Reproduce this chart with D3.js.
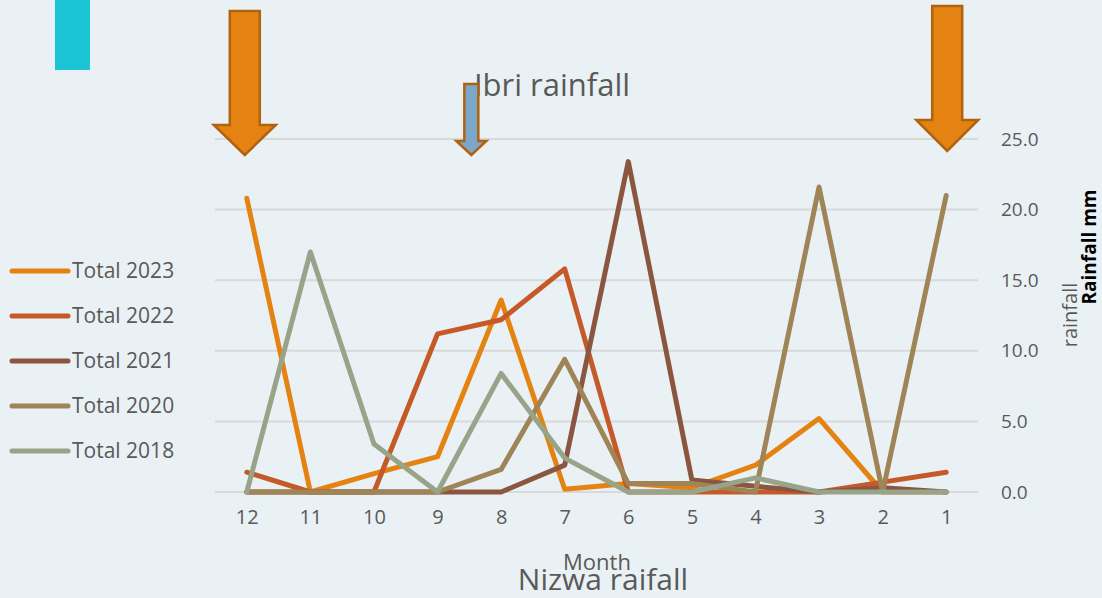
<!DOCTYPE html>
<html><head><meta charset="utf-8">
<script src="https://cdn.jsdelivr.net/npm/d3@7"></script>
<style>
html,body{margin:0;padding:0;background:#E9F1F4;}
svg{display:block;font-family:"Open Sans",sans-serif;}
</style></head>
<body><svg id="c" width="1102" height="598"></svg>
<script>
const months = ["12","11","10","9","8","7","6","5","4","3","2","1"];
const yTicks = [0,5,10,15,20,25];
const seriesNames = ["Total 2023","Total 2022","Total 2021","Total 2020","Total 2018"];
const total2023 = [20.8,0,1.3,2.5,13.6,0.2,0.6,0.3,1.9,5.2,0,0];
const total2022 = [1.4,0,0,11.2,12.2,15.8,0,0,0,0,0.7,1.4];
const total2021 = [0,0,0,0,0,1.9,23.4,0.85,0.4,0,0.3,0];
const total2020 = [0,0,0,0,1.6,9.4,0.6,0.6,0,21.6,0,21.0];
const total2018 = [0,17.0,3.4,0,8.4,2.4,0,0,1.0,0,0,0];
const colors = ["#E48312","#C55A28","#8B5640","#9E8456","#97A48A"];
const seriesValues = [total2023,total2022,total2021,total2020,total2018];

const svg = d3.select("#c");
svg.append("rect").attr("width",1102).attr("height",598).attr("fill","#E9F1F4");

const x = d3.scalePoint().domain(months).range([215,978]).padding(0.5);
const y = d3.scaleLinear().domain([0,25]).range([492,139]);

// gridlines
svg.append("g").selectAll("line").data(yTicks).join("line")
  .attr("x1",215).attr("x2",978).attr("y1",d=>y(d)).attr("y2",d=>y(d))
  .attr("stroke","#D9D9D9").attr("stroke-width",2);

// right axis
const ya = svg.append("g").attr("transform","translate(990,0)")
  .call(d3.axisRight(y).tickValues(yTicks).tickFormat(d3.format(".1f")).tickSize(0).tickPadding(11));
ya.select(".domain").remove();
ya.selectAll("text").attr("font-size",19).attr("fill","#595959").attr("font-family","Open Sans");

// bottom axis
const xa = svg.append("g").attr("transform","translate(0,510)")
  .call(d3.axisBottom(x).tickSize(0).tickPadding(0));
xa.select(".domain").remove();
xa.selectAll("text").attr("font-size",20).attr("fill","#595959").attr("font-family","Open Sans").attr("dy","0.71em");

// lines
const line = d3.line().x((d,i)=>x(months[i])).y(d=>y(d));
seriesValues.forEach((vals,k)=>{
  svg.append("path").datum(vals).attr("d",line).attr("fill","none")
    .attr("stroke",colors[k]).attr("stroke-width",5)
    .attr("stroke-linejoin","round").attr("stroke-linecap","round");
});

// legend
const lg = svg.append("g");
seriesNames.forEach((n,k)=>{
  const yy = 271 + k*45;
  lg.append("line").attr("x1",12).attr("x2",68).attr("y1",yy).attr("y2",yy)
    .attr("stroke",colors[k]).attr("stroke-width",5).attr("stroke-linecap","round");
  lg.append("text").attr("x",72).attr("y",yy).attr("dy","0.35em")
    .attr("font-size",21).attr("fill","#595959").text(n);
});

// cyan block
svg.append("rect").attr("x",55).attr("y",0).attr("width",35).attr("height",70).attr("fill","#1BC5D5");

// arrows
function arrow(cx, top, shaftW, headY, headW, tipY, fill){
  const p = d3.path();
  p.moveTo(cx-shaftW/2, top); p.lineTo(cx+shaftW/2, top); p.lineTo(cx+shaftW/2, headY);
  p.lineTo(cx+headW/2, headY); p.lineTo(cx, tipY); p.lineTo(cx-headW/2, headY);
  p.lineTo(cx-shaftW/2, headY); p.closePath();
  svg.append("path").attr("d",p.toString()).attr("fill",fill).attr("stroke","#B0620E").attr("stroke-width",2.5).attr("stroke-linejoin","miter");
}

// title
svg.append("text").attr("x",552).attr("y",96).attr("text-anchor","middle")
  .attr("font-size",31).attr("fill","#595959").text("Ibri rainfall");

arrow(x("12")-2, 11, 30, 125, 62, 155, "#E48312");
arrow(x("1")+1, 6, 30, 120, 62, 151, "#E48312");
arrow((x("9")+x("8"))/2+2, 84, 14, 141, 30, 155, "#7BA7CB");

// axis titles
svg.append("text").attr("x",597).attr("y",570).attr("text-anchor","middle")
  .attr("font-size",22).attr("fill","#595959").text("Month");
svg.append("text").attr("x",603).attr("y",590).attr("text-anchor","middle")
  .attr("font-size",30).attr("fill","#595959").text("Nizwa raifall");
svg.append("text").attr("transform","translate(1077,315) rotate(-90)").attr("text-anchor","middle")
  .attr("font-size",20).attr("fill","#595959").text("rainfall");
svg.append("text").attr("transform","translate(1096,247) rotate(-90)").attr("text-anchor","middle")
  .attr("font-size",19).attr("font-weight","bold").attr("fill","#000").text("Rainfall mm");
</script></body></html>
